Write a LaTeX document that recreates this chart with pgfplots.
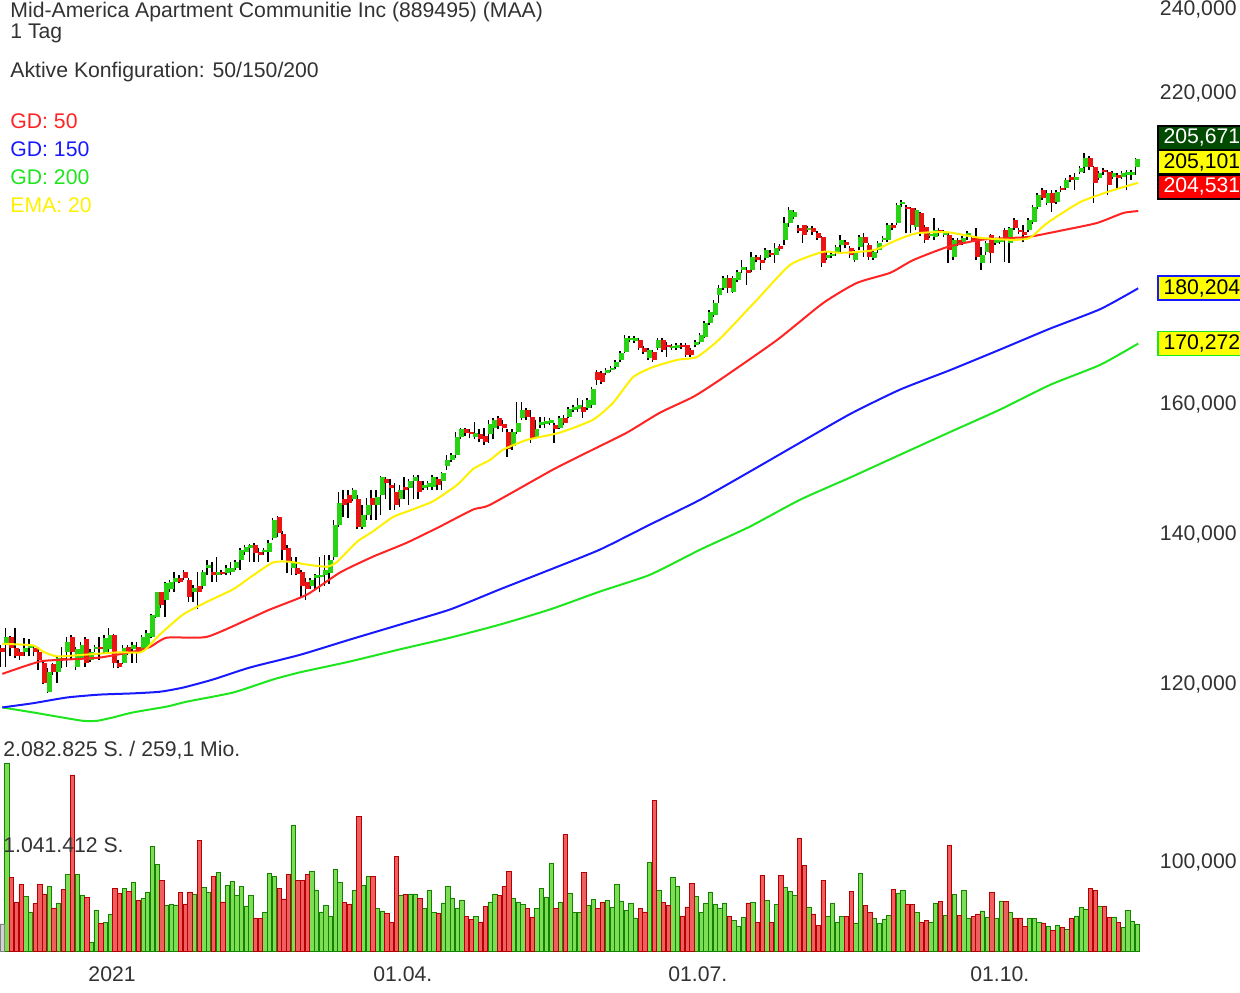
\documentclass[border=0pt]{standalone}
\usepackage{fontspec}
\setmainfont{Liberation Sans}
\usepackage{pgfplots}
\usepackage{pgfplotstable}
\pgfplotsset{compat=1.18}
\definecolor{cgreen}{RGB}{40,210,20}
\definecolor{cred}{RGB}{235,20,20}
\definecolor{vgreen}{RGB}{125,222,85}
\definecolor{vgreend}{RGB}{20,130,0}
\definecolor{vred}{RGB}{240,95,95}
\definecolor{vredd}{RGB}{180,0,0}
\definecolor{gdred}{RGB}{255,35,35}
\definecolor{gdblue}{RGB}{25,25,255}
\definecolor{gdgreen}{RGB}{30,230,30}
\definecolor{emay}{RGB}{255,240,0}
\definecolor{txt}{RGB}{50,50,50}
\definecolor{boxgreen}{RGB}{0,75,0}
\definecolor{boxyellow}{RGB}{255,255,0}

\pgfplotstableread{
i o h l c v
1 125.1 127.2 122.2 126.0 2083
5 124.0 125.9 123.5 124.6 606
6 124.6 125.7 123.5 125.0 434
10 119.1 122.1 119.0 121.6 716
12 121.6 123.5 120.2 123.3 525
14 124.0 126.0 122.2 125.3 852
16 122.2 124.7 121.8 124.4 852
17 123.3 125.3 123.1 125.0 614
19 123.1 124.4 122.8 124.1 92
20 124.4 125.0 124.1 124.7 452
22 124.1 126.2 123.9 125.9 320
23 124.4 127.2 124.1 126.3 404
26 122.7 124.9 122.5 124.6 691
28 124.4 125.3 122.7 125.0 761
30 124.4 126.3 124.1 126.0 584
31 124.7 126.9 124.6 126.5 654
32 126.0 129.0 125.9 128.9 1157
33 128.6 132.0 128.5 131.9 963
35 130.9 133.3 128.6 133.2 503
36 132.3 133.6 132.0 133.3 522
37 133.3 134.7 131.9 133.9 503
41 131.9 132.9 130.6 132.5 632
43 132.7 135.0 132.4 134.7 702
44 135.3 136.4 134.3 135.6 654
46 134.3 136.8 133.3 134.7 871
48 134.6 135.6 134.3 135.3 731
49 134.7 136.0 134.3 135.3 775
50 135.3 136.4 135.0 136.1 614
51 136.4 138.1 135.0 137.8 716
52 137.5 138.5 137.1 138.2 500
53 138.1 138.6 136.1 138.5 614
56 137.5 138.1 137.1 137.8 434
57 137.5 139.2 136.0 138.8 863
58 139.5 142.4 139.2 142.1 827
62 135.3 136.7 134.3 136.1 1389
66 132.7 133.9 132.3 133.6 882
67 133.8 134.4 132.3 134.2 676
68 134.0 136.8 131.9 134.3 434
69 134.3 137.1 132.7 135.0 503
70 134.6 137.1 133.0 136.4 386
71 136.8 142.1 136.4 141.4 907
72 141.4 146.2 141.1 144.6 761
75 145.1 146.8 144.8 146.5 676
77 141.0 144.3 140.7 142.8 724
78 142.8 145.3 142.1 144.3 827
80 144.3 146.5 142.1 145.5 474
81 145.8 148.7 142.8 148.4 437
85 145.1 147.3 143.9 146.5 614
87 146.8 148.1 144.3 147.8 632
88 147.8 148.8 145.1 148.4 632
90 146.8 147.8 146.5 147.3 470
91 147.0 147.8 146.5 147.5 672
92 147.0 148.8 146.5 148.4 430
94 147.8 149.3 146.5 149.1 533
95 150.2 151.9 149.6 151.1 713
96 151.1 152.2 150.8 151.9 580
97 151.9 155.5 151.4 154.7 474
98 154.7 156.2 154.3 155.9 566
101 154.7 157.1 154.3 155.4 386
104 155.1 157.5 153.8 156.7 544
105 156.2 157.8 154.3 157.5 632
109 153.2 155.9 152.7 155.5 584
110 155.5 160.4 155.2 157.0 544
111 157.8 160.4 157.5 159.1 514
114 154.6 157.5 154.3 155.9 474
115 156.6 157.9 156.2 157.1 694
116 156.8 157.9 156.2 157.3 592
117 157.0 157.8 156.6 157.5 970
119 156.2 158.1 155.9 157.8 540
121 157.9 159.6 157.8 159.2 639
122 159.1 159.9 158.7 159.6 430
123 159.2 161.0 158.7 159.9 423
125 159.4 161.0 159.1 160.7 503
126 159.9 162.9 159.4 162.5 573
129 165.2 166.1 164.9 165.7 558
130 165.7 166.4 165.4 166.1 485
131 166.3 167.5 165.9 167.1 738
132 167.5 169.0 167.1 168.7 555
133 168.8 171.8 168.7 171.3 448
134 170.9 171.6 170.6 171.3 525
135 170.7 171.6 170.4 171.3 367
138 167.8 169.5 167.5 169.2 981
140 169.5 171.3 169.2 170.9 676
143 169.5 170.2 169.2 169.9 819
144 169.5 170.4 169.2 170.0 716
148 170.0 170.9 169.7 170.6 606
149 170.6 172.1 170.2 171.8 426
150 171.4 174.3 171.3 173.9 525
151 173.9 176.3 173.6 175.9 654
152 175.4 178.1 175.0 177.5 522
153 179.0 180.8 177.5 180.3 474
154 180.3 182.5 179.9 182.1 533
156 179.5 182.5 179.4 182.1 342
157 181.8 183.6 181.4 183.3 276
158 183.6 185.5 183.1 184.2 371
160 183.6 187.1 183.3 186.1 536
163 185.9 187.8 185.5 187.4 562
165 186.5 188.8 185.0 187.8 518
167 189.4 193.9 188.4 192.7 705
168 192.7 195.9 191.9 195.3 658
169 193.9 195.3 193.5 194.9 617
172 191.3 192.1 190.9 191.7 489
176 185.9 187.1 185.5 186.5 386
177 186.3 187.1 185.9 186.7 525
178 186.9 188.4 186.3 188.0 320
179 188.4 190.4 186.9 189.4 386
182 185.5 187.4 185.2 187.1 305
183 188.0 190.4 187.4 190.0 856
186 185.9 187.4 185.5 187.1 360
187 187.4 189.2 186.9 188.8 305
188 189.4 190.2 189.0 189.8 356
189 189.4 192.7 189.0 192.3 393
191 192.7 196.7 192.3 196.3 643
192 196.5 197.3 195.9 196.9 676
195 191.9 195.7 191.3 195.3 430
198 190.2 190.9 189.8 190.5 320
199 190.0 193.7 189.4 191.3 525
201 190.4 191.3 190.0 190.9 393
203 186.1 189.8 185.5 189.4 628
205 189.0 190.2 188.4 189.8 676
206 190.0 191.1 189.4 190.7 367
209 185.0 188.0 183.6 186.5 445
210 187.1 189.2 186.5 188.8 375
212 188.8 189.8 188.4 189.4 364
213 189.0 190.2 188.6 189.8 555
215 188.8 191.9 185.0 191.7 426
219 191.3 193.7 190.9 193.3 364
220 192.9 196.3 192.5 195.9 364
221 195.9 198.7 195.5 198.3 320
223 196.7 199.3 196.3 198.7 276
225 196.9 199.3 196.5 198.9 287
227 199.8 201.8 199.3 201.4 239
229 201.4 202.8 199.3 202.0 389
230 203.1 204.3 202.6 203.9 481
231 204.1 207.1 202.8 206.0 459
234 201.8 203.3 201.4 202.8 496
237 202.0 203.3 201.6 202.8 378
239 202.0 203.3 201.6 202.8 257
240 202.4 203.5 199.3 203.1 448
241 202.4 203.5 201.4 203.1 331
242 204.1 206.0 202.4 205.671 301
}\upT

\pgfplotstableread{
i o h l c v
0 124.6 124.9 122.2 124.0 301
2 126.0 126.1 123.5 124.6 816
3 124.6 127.2 123.3 123.6 540
4 124.0 124.4 123.1 123.5 735
7 124.6 125.0 123.5 124.0 525
8 124.1 124.7 121.8 123.1 742
9 122.7 123.1 120.1 120.2 632
11 122.5 122.7 121.2 121.5 478
13 123.3 124.7 122.1 123.0 680
15 126.0 126.2 123.1 124.0 1951
18 125.7 126.0 122.2 122.7 595
21 124.7 126.0 123.1 124.5 305
24 126.3 126.4 122.1 122.7 698
25 122.7 123.1 122.0 122.2 636
27 124.7 125.0 123.7 124.0 658
29 124.7 125.3 122.7 124.1 558
34 131.9 132.0 129.8 130.2 779
38 133.9 134.2 133.1 133.3 647
39 134.7 135.0 133.6 133.9 522
40 133.6 133.8 130.6 131.3 654
42 132.7 134.7 129.6 132.0 1223
45 134.7 136.0 133.3 134.3 830
47 134.7 135.0 134.2 134.4 544
54 138.5 138.8 136.1 137.4 367
55 137.5 138.1 136.0 137.1 360
59 142.5 142.7 139.6 140.2 698
60 140.1 140.4 136.4 137.8 577
61 138.1 138.5 134.6 136.1 852
63 135.3 136.7 134.2 134.4 786
64 134.7 135.0 131.2 132.7 786
65 133.3 133.9 130.9 132.3 852
73 145.1 146.5 142.5 144.2 540
74 145.8 146.5 142.4 144.6 522
76 145.1 145.8 140.7 141.1 1488
79 145.3 146.5 142.1 144.3 827
82 148.1 148.5 145.1 147.5 415
83 147.3 148.1 143.6 146.8 320
84 146.2 147.6 143.6 144.3 1047
86 147.0 148.4 145.1 146.5 625
89 147.8 148.8 145.1 146.2 584
93 148.1 148.4 146.5 147.2 419
99 155.9 156.2 154.9 155.4 386
100 155.5 155.9 154.6 155.1 349
102 155.2 155.9 153.9 154.3 320
103 154.9 156.2 153.5 153.9 496
106 157.8 158.1 155.9 156.4 614
107 156.8 157.5 155.5 156.2 716
108 155.5 155.9 151.6 152.8 882
112 159.1 159.4 157.5 157.9 474
113 157.9 159.1 153.8 154.3 378
118 156.6 157.0 153.8 155.9 474
120 157.8 158.3 156.6 157.0 1290
124 159.6 160.7 157.8 158.7 871
127 165.4 165.7 163.2 164.1 474
128 165.2 165.6 163.4 163.7 536
136 170.9 171.3 169.2 169.5 470
137 169.5 169.9 168.5 168.8 434
139 168.8 169.2 167.1 167.5 1664
141 170.9 171.3 168.8 169.2 540
142 170.0 170.6 168.0 169.7 507
145 170.0 170.4 169.3 169.7 389
146 170.0 170.4 168.0 168.3 489
147 169.2 169.5 168.0 168.3 749
155 182.1 182.7 179.4 180.3 386
159 183.6 184.2 180.8 183.1 533
161 186.1 186.5 185.2 185.5 320
162 185.5 186.5 183.6 185.0 841
164 186.9 187.4 186.1 186.5 316
166 188.2 188.6 187.2 187.6 841
170 191.7 192.3 190.7 191.1 1245
171 192.3 192.4 188.8 190.4 948
173 191.7 192.1 190.4 190.9 411
174 190.7 191.1 189.4 189.8 283
175 190.0 190.2 184.2 185.0 786
180 189.0 189.4 187.8 188.4 386
181 187.8 188.2 185.9 186.5 658
184 190.0 190.7 186.1 188.8 503
185 188.4 188.8 185.5 186.1 430
190 192.3 192.7 191.3 191.7 687
193 195.9 196.3 190.7 195.5 522
194 195.7 195.9 190.7 192.3 518
196 194.7 194.9 190.2 190.7 316
197 191.9 192.3 188.8 189.4 338
200 191.3 191.7 190.2 190.7 551
202 190.4 190.7 185.0 187.4 1168
204 189.4 189.8 188.2 188.8 393
207 189.8 190.2 189.0 189.4 386
208 190.0 191.7 185.5 186.1 411
211 190.4 190.5 185.0 186.9 650
214 191.3 191.7 185.2 189.4 551
216 193.3 193.7 191.3 191.7 367
217 191.3 191.7 190.5 190.9 367
218 190.9 192.3 189.0 190.4 276
222 199.3 199.8 197.3 197.7 312
224 198.7 199.3 194.9 196.7 228
226 199.8 200.2 198.9 199.3 257
228 202.0 202.4 201.0 201.4 364
232 206.0 206.4 203.5 204.1 698
233 204.1 204.2 196.7 200.8 672
235 203.5 203.9 202.4 203.1 496
236 203.1 203.5 198.3 200.4 375
238 202.4 202.8 199.8 201.8 320
}\downT

\begin{document}
\fontsize{10.6}{12.7}\selectfont
\begin{tikzpicture}
\useasboundingbox (0pt,0pt) rectangle (620pt,-496pt);
\begin{axis}[
  at={(0pt,0pt)}, anchor=north west,
  scale only axis, width=570pt, height=475pt,
  xmin=-0.49, xmax=242.58,
  ymode=log, ymin=91.37, ymax=242.26,
  axis line style={draw=none}, major tick length=0pt, minor tick num=0,
  xtick=\empty,
  ytick={100,120,140,160,220,240},
  yticklabels={{100,000},{120,000},{140,000},{160,000},{220,000},{240,000}},
  yticklabel pos=right,
  yticklabel style={anchor=east, xshift=48.5pt, inner sep=0pt, text=txt},
  clip=false,
  candle/.style={draw=none, mark=none, forget plot,
    error bars/.cd, y dir=plus, y explicit, error mark=none},
  maline/.style={line width=1pt, mark=none, smooth, tension=0.35},
]
% wicks (behind bodies)
\addplot[candle, error bar style={draw=black, line width=0.75pt, xshift=-0.8pt}]
  table[x=i, y=l, y error expr=\thisrow{h}-\thisrow{l}] {\upT};
\addplot[candle, error bar style={draw=black, line width=0.75pt, xshift=-0.8pt}]
  table[x=i, y=l, y error expr=\thisrow{h}-\thisrow{l}] {\downT};
% candle bodies
\addplot[candle, error bar style={draw=cgreen, line width=2.5pt}]
  table[x=i, y=o, y error expr=\thisrow{c}-\thisrow{o}] {\upT};
\addplot[candle, error bar style={draw=cred, line width=2.5pt}]
  table[x=i, y=c, y error expr=\thisrow{o}-\thisrow{c}] {\downT};

% GD 200
\addplot[maline, color=gdgreen] coordinates {
(0,117.2) (6.5,116.6) (11.7,116.1) (17.2,115.6) (20.2,115.6) (23.6,116.0) (27.9,116.6) (35.1,117.3) (39.4,117.9) (49.2,119.0) (57.7,120.6) (63.5,121.5) (74.1,122.85) (84.8,124.4) (95.5,125.9) (106.1,127.6) (116.8,129.6) (127.4,132.0) (138.1,134.3) (148.8,137.8) (159.4,141.1) (170.1,145.05) (180.8,148.4) (191.4,151.9) (202.1,155.5) (212.7,159.1) (223.4,163.2) (234.1,166.6) (242.2,170.272)};
% GD 150
\addplot[maline, color=gdblue] coordinates {
(0,117.2) (6.5,117.7) (13.8,118.4) (20.8,118.75) (27.9,118.9) (33.6,119.1) (38.5,119.6) (44.9,120.6) (52.8,122.1) (63.5,123.7) (74.1,125.65) (84.8,127.6) (95.5,129.6) (106.1,132.3) (116.8,135.0) (127.4,137.8) (138.1,141.4) (148.8,145.05) (159.4,149.3) (170.1,153.8) (180.8,158.4) (191.4,162.4) (202.1,165.7) (212.7,169.2) (223.4,172.9) (234.1,176.4) (242.2,180.204)};
% GD 50
\addplot[maline, color=gdred] coordinates {
(0,121.3) (8.0,122.85) (13.8,123.1) (20.8,123.35) (27.9,124.1) (31.5,124.7) (35.1,125.9) (43.6,126.0) (52.8,128.4) (57.1,129.6) (65.0,131.6) (72.0,134.6) (79.0,136.8) (86.3,138.8) (93.3,141.1) (100.4,143.6) (104.0,144.3) (117.4,149.6) (125.9,152.7) (133.2,155.4) (140.2,158.6) (147.3,161.2) (153.0,164.05) (165.2,170.9) (175.0,177.5) (182.2,181.2) (189.3,183.1) (194.2,185.5) (201.4,188.0) (208.5,189.4) (215.5,189.8) (219.1,190.0) (226.2,191.3) (233.4,192.7) (239.0,194.7) (242.2,195.1)};
% EMA 20
\addplot[maline, color=emay] coordinates {
(0,125.1) (6.5,124.9) (8.7,124.1) (11.7,123.5) (17.2,123.7) (24.5,124.0) (29.4,124.0) (30.9,124.6) (33.6,126.3) (38.5,128.9) (43.6,130.6) (49.2,132.3) (52.8,133.9) (57.7,136.0) (61.3,136.1) (65.0,135.7) (69.2,135.4) (71.4,136.1) (75.6,138.9) (79.0,140.4) (83.3,142.5) (86.3,143.3) (91.8,144.8) (97.0,147.3) (100.4,149.7) (104.0,151.1) (106.8,152.7) (111.9,154.25) (118.9,155.4) (125.9,157.45) (130.2,160.2) (134.5,164.5) (138.7,166.2) (143.9,167.45) (148.1,167.95) (153.0,171.1) (160.9,178.1) (168.0,184.6) (175.0,187.1) (178.6,186.9) (185.7,187.4) (190.8,189.4) (195.0,190.7) (201.4,190.9) (208.5,189.8) (215.5,189.4) (219.1,189.8) (222.8,192.7) (229.8,196.9) (236.8,199.3) (242.2,200.8)};

% price boxes on the right
\tikzset{pbox/.style={anchor=west, minimum width=44pt, minimum height=12pt, inner xsep=1.2pt, inner ysep=0pt, line width=0.9pt, xshift=8.5pt}}
\node[pbox, fill=boxgreen, draw=black, text=white, yshift=12.3pt] at (axis cs:242.58,205.101) {205,671};
\node[pbox, fill=boxyellow, draw=black, text=black] at (axis cs:242.58,205.101) {205,101};
\node[pbox, fill=red, draw=black, text=white, yshift=-12.3pt] at (axis cs:242.58,205.101) {204,531};
\node[pbox, fill=boxyellow, draw=gdblue, text=black] at (axis cs:242.58,180.204) {180,204};
\node[pbox, fill=boxyellow, draw=gdgreen, text=black] at (axis cs:242.58,170.272) {170,272};
\end{axis}

\begin{axis}[
  at={(0pt,-475.5pt)}, anchor=south west,
  scale only axis, width=570pt, height=94pt,
  xmin=-0.49, xmax=242.58, ymin=0, ymax=2082.825,
  axis line style={draw=none}, major tick length=0pt,
  ytick=\empty,
  xtick={23.4,85.4,148.3,212.7},
  xticklabels={2021,01.04.,01.07.,01.10.},
  xticklabel style={inner sep=0pt, yshift=-7.5pt, text=txt},
  clip=false,
]
\addplot[ybar, bar width=2.15pt, bar shift=0pt, fill=vgreen, draw=vgreend, line width=0.35pt] table[x=i, y=v] {\upT};
\addplot[ybar, bar width=2.15pt, bar shift=0pt, fill=vred, draw=vredd, line width=0.35pt] table[x=i, y=v] {\downT};
\addplot[ybar, bar width=2.15pt, bar shift=0pt, fill=gray!35, draw=gray, line width=0.35pt] coordinates {(0,301)};
\end{axis}

\node[anchor=west, inner sep=0pt, text=txt] at (5pt,-6pt) {Mid-America Apartment Communitie Inc (889495) (MAA)};
\node[anchor=west, inner sep=0pt, text=txt] at (5pt,-16.5pt) {1 Tag};
\node[anchor=west, inner sep=0pt, text=txt] at (5pt,-36pt) {Aktive Konfiguration: 50/150/200};
\node[anchor=west, inner sep=0pt, text=gdred] at (5pt,-60.5pt) {GD: 50};
\node[anchor=west, inner sep=0pt, text=gdblue] at (5pt,-74.5pt) {GD: 150};
\node[anchor=west, inner sep=0pt, text=gdgreen] at (5pt,-88.5pt) {GD: 200};
\node[anchor=west, inner sep=0pt, text=emay] at (5pt,-102.5pt) {EMA: 20};
\node[anchor=west, inner sep=0pt, text=txt] at (1.5pt,-375pt) {2.082.825 S. / 259,1 Mio.};
\node[anchor=west, inner sep=0pt, text=txt] at (1.5pt,-422.5pt) {1.041.412 S.};
\end{tikzpicture}
\end{document}
